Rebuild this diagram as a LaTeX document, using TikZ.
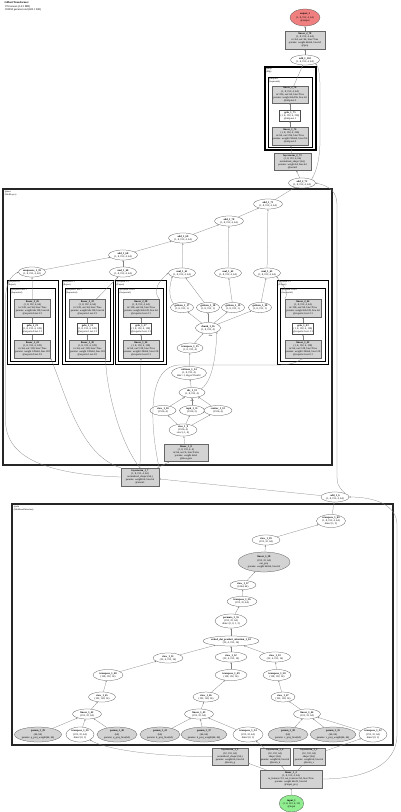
\documentclass[tikz,border=0pt]{standalone}
\usepackage{fontspec}
\setmainfont{Liberation Serif}
\usetikzlibrary{shapes.geometric,arrows.meta}
\definecolor{gfill}{RGB}{211,211,211}
\definecolor{outred}{RGB}{240,128,128}
\definecolor{ingreen}{RGB}{144,238,144}
\newcommand\nm[1]{\textbf{\detokenize{#1}}}
\newcommand\expertbox[6]{%
  \draw[modC] ({#1-25.5},280) rectangle ({#1+25.5},364);
  \draw[modD] ({#1-22.5},288) rectangle ({#1+22.5},361);
  \node[mlabel] at ({#1-24.6},280.9) {@experts.#3:1\\(Expert)};
  \node[mlabel] at ({#1-21.6},288.9) {@experts.#3.net:1\\(Sequential)};
  \node[gbox,sz={36pt}{18pt}] (#2top) at (#1,308) {\nm{linear_2_#4}\\(1, 8, 192, 4, 64)\\in=128, out=64, bias=True\\params: weight 64x128, bias 64\\@experts.#3.net.2:1};
  \node[wbox,sz={21pt}{11pt}] (#2mid) at (#1,329) {\nm{gelu_1_#5}\\(1, 8, 192, 4, 128)\\@experts.#3.net.1:1};
  \node[gbox,sz={36pt}{18pt}] (#2bot) at (#1,349) {\nm{linear_1_#6}\\(1, 8, 192, 4, 128)\\in=64, out=128, bias=True\\params: weight 128x64, bias 128\\@experts.#3.net.0:1};
  \draw[edge] (#2bot) -- (#2mid);
  \draw[edge] (#2mid) -- (#2top);
}
\begin{document}
\begin{tikzpicture}[x=1pt,y=-1pt,
  every node/.style={font=\fontsize{2.6}{3.1}\selectfont, align=center, inner sep=0pt},
  sz/.style 2 args={minimum width=#1,minimum height=#2},
  ell/.style={ellipse, draw=black!70, line width=0.25pt, fill=white},
  gell/.style={ellipse, draw=black!70, line width=0.25pt, fill=gfill},
  gbox/.style={rectangle, draw=black!60, line width=0.25pt, fill=gfill},
  wbox/.style={rectangle, draw=black!70, line width=0.25pt, fill=white},
  edge/.style={draw=black!50, line width=0.25pt, -{Stealth[length=1.6pt,width=1.3pt]}},
  modA/.style={draw=black!85, line width=1.5pt},
  modB/.style={draw=black, line width=1.1pt},
  modC/.style={draw=black, line width=0.9pt},
  modD/.style={draw=black, line width=0.6pt},
  mlabel/.style={anchor=north west, align=left, font=\fontsize{2.3}{2.8}\selectfont},
  elabel/.style={font=\fontsize{2.2}{2.6}\selectfont}
]
\useasboundingbox (0,0) rectangle (400,812);
\fill[white] (0,0) rectangle (400,812);

% header
\node[anchor=north west, align=left, font=\fontsize{2.8}{3.4}\selectfont] (hdr) at (4.5,1.8)
  {\textbf{GilbertTransformer}\\176 tensors (14.3 MB)\\103204 params total (403.1 KB)};

% ---------- module boxes ----------
\draw[modB] (265,67) rectangle (316,150);
\draw[modC] (268,77) rectangle (312,147);
\node[mlabel] at (265.8,67.9) {@mlp\\(Mlp)};
\node[mlabel] at (268.7,77.8) {@mlp.net\\(Sequential)};

\draw[modA] (3,189) rectangle (332,465);
\node[mlabel] at (4.6,190.6) {@moe\\(MoELayer)};

\draw[modA] (12,504) rectangle (393,745);
\node[mlabel] at (13.6,505.6) {@attn\\(MultiheadAttention)};

% ---------- top ----------
\node[ell, fill=outred, sz={30pt}{17pt}] (out) at (305,17.5) {\nm{output_1}\\(1, 8, 192, 4, 64)\\@output};
\node[gbox, sz={40pt}{18pt}] (lin78) at (305,40) {\nm{linear_2_78}\\(1, 8, 192, 4, 64)\\in=64, out=64, bias=True\\params: weight 64x64, bias 64\\@proj};
\node[ell, sz={29pt}{10pt}] (add163) at (305,60) {\nm{add_1_163}\\(1, 8, 192, 4, 64)};
\node[gbox, sz={36pt}{17pt}] (fc2) at (290,94.5) {\nm{linear_2_76}\\(1, 8, 192, 4, 64)\\in=256, out=64, bias=True\\params: weight 64x256, bias 64\\@mlp.net.2};
\node[wbox, sz={21pt}{11pt}] (gelu) at (290,115.5) {\nm{gelu_1_75}\\(1, 8, 192, 4, 256)\\@mlp.net.1};
\node[gbox, sz={36pt}{18pt}] (fc1) at (290,136) {\nm{linear_1_74}\\(1, 8, 192, 4, 256)\\in=64, out=256, bias=True\\params: weight 256x64, bias 256\\@mlp.net.0};
\node[gbox, sz={37pt}{17pt}] (ln2) at (292.5,162) {\nm{layernorm_2_73}\\(1, 8, 192, 4, 64)\\normalized\_shape=(64,)\\params: weight 64, bias 64\\@norm2};
\node[ell, sz={27pt}{10pt}] (add2) at (302,183) {\nm{add_2_72}\\(1, 8, 192, 4, 64)};

% ---------- moe ----------
\node[ell, sz={29pt}{10pt}] (addj) at (268,204) {\nm{add_1_71}\\(1, 8, 192, 4, 64)};
\node[ell, sz={29pt}{10pt}] (addi) at (229,221) {\nm{add_1_70}\\(1, 8, 192, 4, 64)};
\node[ell, sz={29pt}{10pt}] (addh) at (183,238) {\nm{add_1_69}\\(1, 8, 192, 4, 64)};
\node[ell, sz={29pt}{10pt}] (addg) at (123,255) {\nm{add_1_68}\\(1, 8, 192, 4, 64)};
\node[ell, sz={27pt}{10pt}] (ra) at (32,272) {\nm{unsqueeze_1_59}\\(1, 8, 192, 4, 64)};
\node[ell, sz={27pt}{10pt}] (rb) at (123,272) {\nm{mul_1_60}\\(1, 8, 192, 4, 64)};
\node[ell, sz={27pt}{10pt}] (rc) at (182,273) {\nm{mul_1_61}\\(1, 8, 192, 4, 64)};
\node[ell, sz={27pt}{10pt}] (rd) at (228,273) {\nm{mul_1_62}\\(1, 8, 192, 4, 64)};
\node[ell, sz={27pt}{10pt}] (re) at (267,273) {\nm{mul_1_63}\\(1, 8, 192, 4, 64)};

\expertbox{32.5}{ea}{0}{26}{25}{24}
\expertbox{87.5}{eb}{1}{32}{31}{30}
\expertbox{141}{ec}{2}{38}{37}{36}
\expertbox{303}{ed}{3}{44}{43}{42}

\node[ell, sz={23pt}{10pt}] (gi1) at (182,307.5) {\nm{getitem_1_17}\\(1, 8, 192, 1)};
\node[ell, sz={23pt}{10pt}] (gi2) at (208,307.5) {\nm{getitem_1_18}\\(1, 8, 192, 1)};
\node[ell, sz={23pt}{10pt}] (gi3) at (233,307.5) {\nm{getitem_1_19}\\(1, 8, 192, 1)};
\node[ell, sz={23pt}{10pt}] (gi4) at (260,307.5) {\nm{getitem_1_20}\\(1, 8, 192, 1)};
\node[ell, sz={25pt}{11pt}] (chunk) at (208,328) {\nm{chunk_1_16}\\(1, 8, 192, 4)};
\node[elabel] at (210.5,335.5) {dim};
\node[ell, sz={26pt}{10pt}] (trn) at (190,348) {\nm{transpose_1_15}\\(1, 8, 192, 4)};
\node[ell, sz={35pt}{13pt}] (smx) at (189,373) {\nm{softmax_1_14}\\(1, 8, 192, 4)\\dim=-1, dtype=float32};
\node[ell, sz={26pt}{10pt}] (dv) at (192,392.5) {\nm{div_1_13}\\(1, 8, 192, 4)};
\node[elabel] at (183,398.5) {0};
\node[elabel] at (198.5,398.5) {1};
\node[elabel] at (192,400.5) {dim};
\node[ell, sz={26pt}{10pt}] (q1r) at (163,410.5) {\nm{view_1_10}\\(1536, 4)};
\node[ell, sz={25pt}{10pt}] (q2r) at (192,410.5) {\nm{topk_1_11}\\(1536, 2)};
\node[ell, sz={28pt}{10pt}] (q3r) at (218,410.5) {\nm{scatter_1_12}\\(1536, 4)};
\node[ell, sz={28pt}{12pt}] (gv) at (183,430) {\nm{view_1_9}\\(1536, 4)\\size=(-1, 4)};
\node[gbox, sz={44pt}{17pt}] (gate) at (186,453) {\nm{linear_1_8}\\(1, 8, 192, 4, 4)\\in=64, out=4, bias=False\\params: weight 4x64\\@moe.gate};

\node[gbox, sz={38pt}{18pt}] (ln1) at (140,477) {\nm{layernorm_1_7}\\(1, 8, 192, 4, 64)\\normalized\_shape=(64,)\\params: weight 64, bias 64\\@norm1};
\node[ell, sz={28pt}{10pt}] (add6) at (335,497) {\nm{add_1_6}\\(1, 8, 192, 4, 64)};

% ---------- attn ----------
\node[ell, sz={29pt}{13pt}] (ro) at (331,521) {\nm{transpose_1_60}\\(1, 8, 192, 4, 64)\\dims=(1, 2)};
\node[ell, sz={28pt}{10pt}] (v1) at (266,540) {\nm{view_1_59}\\(192, 32, 64)};
\node[gell, sz={52pt}{20pt}] (lo) at (264,562) {\nm{linear_1_58}\\(192, 32, 64)\\out\_proj\\params: weight 64x64, bias 64};
\node[ell, sz={26pt}{9pt}] (v2) at (243,585) {\nm{view_1_57}\\(6144, 64)};
\node[ell, sz={30pt}{10pt}] (tt) at (242,601.5) {\nm{transpose_1_56}\\(192, 32, 64)};
\node[ell, sz={32pt}{14pt}] (pp) at (231,621) {\nm{permute_1_55}\\(192, 32, 64)\\dims=(2, 0, 1, 3)};
\node[ell, sz={54pt}{10pt}] (sdpa) at (231,641) {\nm{scaled_dot_product_attention_1_54}\\(32, 4, 192, 16)};

\node[ell, sz={30pt}{10pt}] (qa) at (168,658) {\nm{view_1_51}\\(32, 4, 192, 16)};
\node[ell, sz={32pt}{10pt}] (ka) at (231,657) {\nm{view_1_52}\\(32, 4, 192, 16)};
\node[ell, sz={31pt}{10pt}] (va) at (275,657) {\nm{view_1_53}\\(32, 4, 192, 16)};
\node[ell, sz={30pt}{11pt}] (qb) at (108,675) {\nm{transpose_1_48}\\(128, 192, 16)};
\node[ell, sz={32pt}{11pt}] (kb) at (231,675) {\nm{transpose_1_49}\\(128, 192, 16)};
\node[ell, sz={28pt}{11pt}] (vb) at (277,675) {\nm{transpose_1_50}\\(128, 192, 16)};
\node[ell, sz={27pt}{10pt}] (qc) at (102,697) {\nm{view_1_45}\\(192, 128, 16)};
\node[ell, sz={26pt}{10pt}] (kc) at (206,697) {\nm{view_1_46}\\(192, 128, 16)};
\node[ell, sz={24pt}{10pt}] (vc) at (283,697) {\nm{view_1_47}\\(192, 128, 16)};
\node[ell, sz={29pt}{10pt}] (ql) at (87,714) {\nm{linear_1_42}\\(192, 32, 64)};
\node[ell, sz={29pt}{10pt}] (kl) at (199,714) {\nm{linear_1_43}\\(192, 32, 64)};
\node[ell, sz={27pt}{10pt}] (vl) at (307,714) {\nm{linear_1_44}\\(192, 32, 64)};

\node[gell, sz={47pt}{15pt}] (g1) at (38,734.5) {\nm{param_1_39}\\(64, 64)\\params: q\_proj\_weight(64, 64)};
\node[ell, sz={28pt}{15pt}] (w1) at (80,734.5) {\nm{transpose_1_36}\\(192, 32, 64)\\dims=(0, 1)};
\node[gell, sz={40pt}{15pt}] (g2) at (117,734.5) {\nm{param_1_40}\\(64)\\params: q\_proj\_bias(64)};
\node[gell, sz={40pt}{15pt}] (g3) at (160,734.5) {\nm{param_1_41}\\(64)\\params: k\_proj\_bias(64)};
\node[gell, sz={43pt}{15pt}] (g4) at (204,734.5) {\nm{param_1_37}\\(64, 64)\\params: k\_proj\_weight(64, 64)};
\node[ell, sz={30pt}{15pt}] (w2) at (248,734.5) {\nm{transpose_1_34}\\(192, 32, 64)\\dims=(0, 1)};
\node[gell, sz={40pt}{15pt}] (g5) at (288,734.5) {\nm{param_1_38}\\(64)\\params: v\_proj\_bias(64)};
\node[gell, sz={42pt}{15pt}] (g6) at (333,734.5) {\nm{param_1_35}\\(64, 64)\\params: v\_proj\_weight(64, 64)};
\node[ell, sz={28pt}{15pt}] (w3) at (373,734.5) {\nm{transpose_1_32}\\(192, 32, 64)\\dims=(0, 1)};

% ---------- bottom ----------
\node[gbox, sz={36pt}{17pt}] (lna) at (230,756.5) {\nm{layernorm_1_5}\\(32, 192, 64)\\normalized\_shape=(64,)\\params: weight 64, bias 64\\@norm\_q};
\node[gbox, sz={30pt}{17pt}] (lnb) at (275,756.5) {\nm{layernorm_1_4}\\(32, 192, 64)\\shape=(64,)\\params: weight 64, bias 64\\@norm\_k};
\node[gbox, sz={32pt}{17pt}] (lnc) at (309,756.5) {\nm{layernorm_1_3}\\(32, 192, 64)\\shape=(64,)\\params: weight 64, bias 64\\@norm\_v};
\node[gbox, sz={62pt}{18pt}] (emb) at (291,779) {\nm{linear_1_2}\\(1, 8, 192, 4, 64)\\in\_features=32, out\_features=64, bias=True\\params: weight 64x32, bias 64\\@input\_proj};
\node[ell, fill=ingreen, sz={23pt}{17pt}] (inp) at (291.5,803.5) {\nm{input_1}\\(1, 8, 192, 4, 32)\\@input};

% ---------- edges: top ----------
\draw[edge] (lin78) -- (out);
\draw[edge] (add163) -- (lin78);
\draw[edge] (fc2) -- (add163);
\draw[edge] (gelu) -- (fc2);
\draw[edge] (fc1) -- (gelu);
\draw[edge] (ln2) -- (fc1);
\draw[edge] (add2) -- (ln2);
\draw[edge] (add2.north east) .. controls (317,170) and (320,158) .. (320,140) -- (320,88) .. controls (320,72) and (318,66) .. (add163.south east);
\draw[edge] (addj) -- (add2);
\draw[edge] (add6.north east) .. controls (337,485) .. (337,470) -- (337,205) .. controls (337,192) and (330,186) .. (add2.east);

% ---------- edges: moe ----------
\draw[edge] (addi) -- (addj);
\draw[edge] (re) -- (addj);
\draw[edge] (addh) -- (addi);
\draw[edge] (rd) -- (addi);
\draw[edge] (addg) -- (addh);
\draw[edge] (rc) -- (addh);
\draw[edge] (ra) -- (addg);
\draw[edge] (rb) -- (addg);
\draw[edge] (eatop) -- (ra);
\draw[edge] (ebtop) -- (rb);
\draw[edge] (ectop.north east) .. controls (152,290) and (160,280) .. (rc.west);
\draw[edge] (edtop.north west) .. controls (290,292) and (282,284) .. (re.south east);
\draw[edge] (gi1.north west) .. controls (170,300) and (168,290) .. (rc.south west);
\draw[edge] (gi2) -- (rc);
\draw[edge] (gi3) -- (rd);
\draw[edge] (gi4) -- (re);
\draw[edge] (chunk) -- (gi1);
\draw[edge] (chunk) -- (gi2);
\draw[edge] (chunk) -- (gi3);
\draw[edge] (chunk) -- (gi4);
\draw[edge] (trn) -- (chunk);
\draw[edge] (dv.north east) .. controls (214,380) and (216,350) .. (chunk.south east);
\draw[edge] (smx) -- (trn);
\draw[edge] (dv) -- (smx);
\draw[edge] (q1r) -- (dv);
\draw[edge] (q2r) -- (dv);
\draw[edge] (q3r) -- (dv);
\draw[edge] (gv) -- (q1r);
\draw[edge] (gv) -- (q2r);
\draw[edge] (gv) -- (q3r);
\draw[edge] (gate) -- (gv);
\draw[edge] (ln1) -- (gate);
\draw[edge] (ln1.north west) .. controls (80,455) and (66,395) .. (eabot.south east);
\draw[edge] (ln1.north) .. controls (118,440) and (106,385) .. (ebbot.south east);
\draw[edge] (ln1) -- (ecbot);
\draw[edge] (ln1.north east) .. controls (149,420) and (148,365) .. (180,365) -- (275,365) .. controls (290,365) and (296,363) .. (edbot.south);
\draw[edge] (ln1.west) .. controls (40,474) and (5.5,455) .. (5.5,420) -- (5.5,300) .. controls (5.5,285) and (10,276) .. (ra.west);
\draw[edge] (add6) -- (ln1);

% ---------- edges: attn ----------
\draw[edge] (ro) -- (add6);
\draw[edge] (v1) -- (ro);
\draw[edge] (lo) -- (v1);
\draw[edge] (v2) -- (lo);
\draw[edge] (tt) -- (v2);
\draw[edge] (pp) -- (tt);
\draw[edge] (sdpa) -- (pp);
\draw[edge] (qa) -- (sdpa);
\draw[edge] (ka) -- (sdpa);
\draw[edge] (va) -- (sdpa);
\draw[edge] (qb) -- (qa);
\draw[edge] (kb) -- (ka);
\draw[edge] (vb) -- (va);
\draw[edge] (qc) -- (qb);
\draw[edge] (kc) -- (kb);
\draw[edge] (vc) -- (vb);
\draw[edge] (ql) -- (qc);
\draw[edge] (kl) -- (kc);
\draw[edge] (vl) -- (vc);
\draw[edge] (g1) -- (ql);
\draw[edge] (w1) -- (ql);
\draw[edge] (g2) -- (ql);
\draw[edge] (g3) -- (kl);
\draw[edge] (g4) -- (kl);
\draw[edge] (w2) -- (kl);
\draw[edge] (g5) -- (vl);
\draw[edge] (g6) -- (vl);
\draw[edge] (w3) -- (vl);

% ---------- edges: bottom ----------
\draw[edge] (lna.west) .. controls (175,757) and (110,752) .. (w1.south east);
\draw[edge] (lnb) -- (w2);
\draw[edge] (lnc) -- (w3);
\draw[edge] (emb) -- (lna);
\draw[edge] (emb) -- (lnb);
\draw[edge] (emb) -- (lnc);
\draw[edge] (emb.east) .. controls (365,779) and (397,765) .. (397,735) -- (397,525) .. controls (397,505) and (375,497) .. (add6.east);
\draw[edge] (inp) -- (emb);
\end{tikzpicture}
\end{document}
